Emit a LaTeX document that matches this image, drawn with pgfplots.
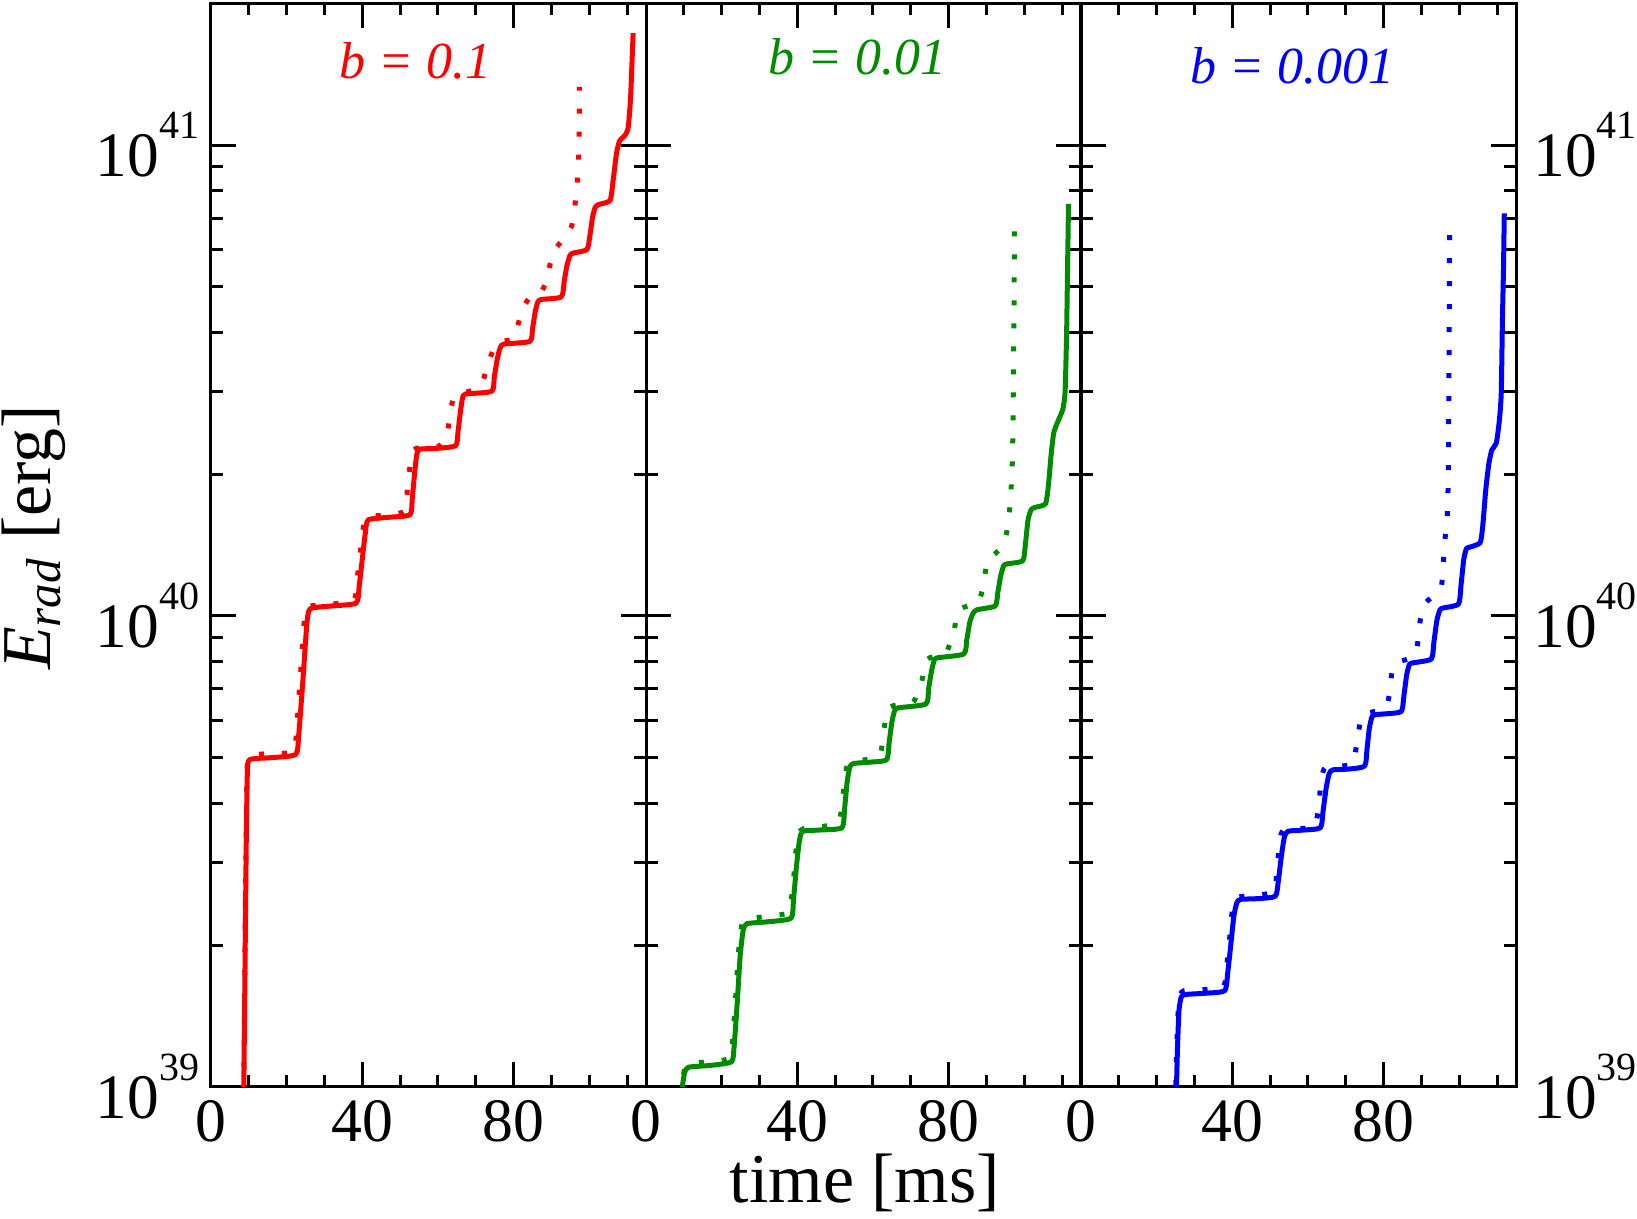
\documentclass[border=0pt]{standalone}
\usepackage{pgfplots}
\pgfplotsset{compat=1.18}
\usepackage{amsmath}
\usepackage{fontspec}
\setmainfont{Liberation Serif}
\definecolor{xred}{RGB}{255,0,0}
\definecolor{xgreen}{RGB}{0,139,0}
\definecolor{xblue}{RGB}{0,0,255}
\newcommand\tp[1]{10\raisebox{0.6em}{\fontsize{12}{12}\selectfont #1}}
\tikzset{
  msol/.style={line width=1.5pt, line join=round, smooth, tension=0.35},
  mdot/.style={line width=1.5pt, dash pattern=on 1.5pt off 5.4pt, smooth, tension=0.35},
  ttl/.style={font=\fontsize{15.6}{15.6}\selectfont\itshape, anchor=base},
}
\pgfplotsset{
  every axis/.append style={
    scale only axis, width=130.5pt, height=325pt,
    xmin=0, xmax=115, ymin=1e39, ymax=2e41,
    axis line style={line width=0.9pt},
    major tick style={black, line width=0.9pt},
    minor tick style={black, line width=0.9pt},
    major tick length=7.5pt, minor tick length=3.6pt,
    tick align=inside,
    xtick={0,40,80}, xticklabels={0,40,80},
    minor xtick={10,20,30,50,60,70,90,100,110},
    ytick={1e39,1e40,1e41},
    minor ytick={2e39,3e39,4e39,5e39,6e39,7e39,8e39,9e39,2e40,3e40,4e40,5e40,6e40,7e40,8e40,9e40},
    xtick pos=both,
    xticklabel style={font=\fontsize{18.5}{18.5}\selectfont, anchor=base, inner sep=0pt, yshift=-16.3pt},
    yticklabel style={font=\fontsize{19}{19}\selectfont},
  },
}
\begin{document}
\begin{tikzpicture}
% ---------------- panel 1: b = 0.1 ----------------
\begin{semilogyaxis}[at={(0pt,0pt)}, anchor=south west,
  yticklabel pos=left, ytick pos=both,
  yticklabels={\tp{39},\tp{40},\tp{41}},
  yticklabel style={inner sep=0pt, xshift=-3.3pt},
  ylabel={\textit{E}$_{\textit{rad}}$ [erg]},
  ylabel style={at={(axis description cs:-0.37,0.507)}, anchor=base, font=\fontsize{21}{21}\selectfont},
]
\addplot[xred, msol] coordinates {
(8.3,5e38) (8.9,1.5e39) (9.3,3.2e39) (9.6,4.6e39) (10.2,4.95e39) (16,5.0e39) (22.4,5.08e39)
(23.2,5.6e39) (24.3,7.3e39) (25.3,9.5e39) (26.2,1.035e40) (32,1.05e40) (38.4,1.065e40)
(39.2,1.16e40) (40.0,1.32e40) (40.8,1.5e40) (41.6,1.6e40) (47,1.62e40) (52.6,1.64e40)
(53.2,1.77e40) (53.8,2.0e40) (54.4,2.2e40) (55.2,2.26e40) (60,2.27e40) (64.7,2.3e40)
(65.3,2.46e40) (65.9,2.7e40) (66.5,2.9e40) (67.3,2.96e40) (74.2,3.0e40)
(74.9,3.22e40) (75.7,3.52e40) (76.5,3.72e40) (77.5,3.78e40) (84.3,3.83e40)
(85.0,4.07e40) (85.7,4.42e40) (86.4,4.64e40) (87.3,4.7e40) (92.6,4.76e40)
(93.4,5.15e40) (94.1,5.55e40) (94.9,5.83e40) (95.8,5.9e40) (99.4,6.0e40)
(100.2,6.45e40) (100.9,7.05e40) (101.6,7.38e40) (102.5,7.48e40) (105.5,7.63e40)
(106.3,8.4e40) (107.2,9.6e40) (108.0,1.02e41) (109.5,1.05e41) (110.3,1.09e41)
(110.9,1.25e41) (111.3,1.5e41) (111.6,1.73e41)
};
\addplot[xred, mdot] coordinates {
(8.25,5e38) (8.85,1.5e39) (9.25,3.2e39) (9.55,4.7e39) (10.2,5.05e39) (16,5.1e39) (21.8,5.15e39)
(22.6,5.7e39) (23.6,7.4e39) (24.6,9.6e39) (25.5,1.045e40) (32,1.06e40) (37.8,1.08e40)
(38.6,1.19e40) (39.4,1.35e40) (40.2,1.52e40) (41.0,1.62e40) (47,1.64e40) (51.2,1.67e40)
(51.9,1.85e40) (52.5,2.05e40) (53.3,2.22e40) (54.3,2.27e40) (60,2.29e40) (62.3,2.4e40)
(63.3,2.73e40) (64.3,2.93e40) (66,2.97e40) (70,3.03e40) (72,3.18e40) (73.5,3.48e40)
(75.2,3.76e40) (77,3.83e40) (79.8,3.88e40) (81,4.12e40) (82.3,4.45e40) (84,4.72e40)
(86.5,4.79e40) (88.3,5.05e40) (89.7,5.6e40) (91,6.0e40) (92.3,6.2e40) (94,6.45e40)
(95.4,6.75e40) (96.3,7.55e40) (97.0,8.7e40) (97.3,1.0e41) (97.4,1.33e41)
};
\node[ttl, xred] at (rel axis cs:0.470,0.931) {b = 0.1};
\end{semilogyaxis}
% ---------------- panel 2: b = 0.01 ----------------
\begin{semilogyaxis}[at={(130.5pt,0pt)}, anchor=south west,
  ytick pos=both, yticklabels={},
  xlabel={time [ms]},
  xlabel style={at={(axis description cs:0.503,0)}, anchor=base, inner sep=0pt, yshift=-34.8pt, font=\fontsize{21}{21}\selectfont},
]
\addplot[xgreen, msol] coordinates {
(9.3,9.5e38) (9.6,1.0e39) (10.2,1.07e39) (11.2,1.10e39) (17,1.11e39) (22.6,1.13e39)
(23.3,1.22e39) (24.1,1.5e39) (24.9,1.9e39) (25.7,2.15e39) (26.7,2.22e39) (32,2.24e39) (38.3,2.28e39)
(39.0,2.5e39) (39.8,2.95e39) (40.6,3.35e39) (41.5,3.49e39) (46,3.51e39) (51.8,3.55e39)
(52.5,3.9e39) (53.2,4.45e39) (53.9,4.78e39) (54.9,4.86e39) (59,4.89e39) (63.6,4.95e39)
(64.3,5.4e39) (65.0,5.95e39) (65.7,6.28e39) (66.7,6.38e39) (74,6.5e39)
(74.7,7.0e39) (75.5,7.65e39) (76.2,8.05e39) (77.1,8.15e39) (84,8.3e39)
(84.8,8.9e39) (85.6,9.7e39) (86.4,1.01e40) (87.4,1.03e40) (92.3,1.05e40)
(93,1.12e40) (93.8,1.22e40) (94.6,1.28e40) (95.5,1.29e40) (99.6,1.31e40)
(100.3,1.42e40) (101.0,1.60e40) (101.8,1.68e40) (102.8,1.70e40) (105.6,1.73e40)
(106.4,1.9e40) (107.1,2.2e40) (107.8,2.45e40) (109,2.6e40) (110.2,2.75e40)
(110.8,3.0e40) (111.2,4.0e40) (111.45,5.5e40) (111.7,7.5e40)
};
\addplot[xgreen, mdot] coordinates {
(9.2,9.5e38) (9.5,1.01e39) (10.1,1.08e39) (11.1,1.12e39) (17,1.13e39) (22.2,1.15e39)
(22.9,1.25e39) (23.7,1.55e39) (24.5,1.95e39) (25.3,2.2e39) (26.3,2.27e39) (32,2.3e39) (37.6,2.34e39)
(38.4,2.5e39) (39.0,2.75e39) (39.6,3.15e39) (40.5,3.45e39) (41.5,3.53e39) (46,3.56e39) (51.0,3.65e39)
(51.6,3.9e39) (52.3,4.3e39) (53.0,4.75e39) (54.0,4.9e39) (58,4.95e39) (61.8,5.05e39)
(62.5,5.4e39) (63.2,5.95e39) (64.0,6.35e39) (65.5,6.45e39) (70.5,6.55e39)
(71.7,6.85e39) (72.8,7.2e39) (73.9,7.95e39) (75,8.15e39) (79.1,8.3e39)
(80.5,8.8e39) (81.3,9.1e39) (82.2,1.01e40) (83.5,1.04e40) (87.9,1.07e40)
(89.2,1.17e40) (90.3,1.31e40) (92.5,1.36e40) (94.5,1.42e40) (95.8,1.57e40)
(96.5,1.85e40) (96.9,2.2e40) (97.1,3.0e40) (97.3,4.5e40) (97.4,7.0e40)
};
\node[ttl, xgreen] at (rel axis cs:0.486,0.934) {b = 0.01};
\end{semilogyaxis}
% ---------------- panel 3: b = 0.001 ----------------
\begin{semilogyaxis}[at={(261pt,0pt)}, anchor=south west,
  yticklabel pos=right, ytick pos=both,
  yticklabels={\tp{39},\tp{40},\tp{41}},
  yticklabel style={inner sep=0pt, xshift=5pt},
]
\addplot[xblue, msol] coordinates {
(25.1,9e38) (25.5,1.2e39) (25.9,1.45e39) (26.5,1.55e39) (27.5,1.57e39) (33,1.58e39) (38.0,1.60e39)
(38.8,1.75e39) (39.6,2.0e39) (40.4,2.3e39) (41.2,2.46e39) (42.2,2.50e39) (47,2.51e39) (51.4,2.54e39)
(52.2,2.75e39) (53.0,3.1e39) (53.8,3.4e39) (54.8,3.49e39) (59,3.51e39) (63.3,3.55e39)
(64.0,3.85e39) (64.8,4.3e39) (65.6,4.62e39) (66.6,4.71e39) (71,4.73e39) (75.0,4.8e39)
(75.6,5.2e39) (76.2,5.75e39) (76.9,6.1e39) (77.8,6.17e39) (81,6.2e39) (84.7,6.27e39)
(85.4,6.8e39) (86.1,7.5e39) (86.8,7.88e39) (87.7,7.95e39) (92.6,8.1e39)
(93.3,8.8e39) (94.1,9.8e39) (94.9,1.03e40) (95.8,1.04e40) (99.8,1.06e40)
(100.5,1.17e40) (101.2,1.32e40) (101.9,1.39e40) (102.8,1.40e40) (105.5,1.43e40)
(106.2,1.55e40) (107.0,1.85e40) (107.8,2.1e40) (108.6,2.25e40) (109.8,2.33e40)
(110.6,2.6e40) (111.1,2.97e40) (111.4,4.2e40) (111.7,5.5e40) (111.9,7.16e40)
};
\addplot[xblue, mdot] coordinates {
(24.9,9e38) (25.3,1.2e39) (25.7,1.45e39) (26.3,1.57e39) (27.3,1.60e39) (33,1.61e39) (37.7,1.63e39)
(38.5,1.8e39) (39.2,2.02e39) (39.8,2.3e39) (40.6,2.48e39) (41.6,2.53e39) (47,2.55e39) (51.1,2.6e39)
(51.6,2.75e39) (52.1,3.05e39) (52.6,3.35e39) (53.4,3.5e39) (57,3.53e39) (61.6,3.56e39)
(62.3,3.7e39) (62.9,3.94e39) (63.4,4.45e39) (64.2,4.72e39) (65.2,4.78e39) (69,4.8e39)
(71.6,4.83e39) (72.1,4.9e39) (73,5.41e39) (73.9,6.0e39) (75,6.2e39) (79,6.3e39)
(80.8,6.45e39) (81.5,6.8e39) (82.2,7.58e39) (83.2,7.95e39) (86.5,8.1e39) (88.3,8.3e39)
(89.0,8.75e39) (89.6,9.7e39) (90.5,1.05e40) (91.8,1.08e40) (93.5,1.11e40) (95.3,1.16e40)
(95.8,1.30e40) (96.2,1.45e40) (96.8,1.6e40) (97.1,2.0e40) (97.3,3.5e40) (97.45,6.6e40)
};
\node[ttl, xblue] at (rel axis cs:0.486,0.926) {b = 0.001};
\end{semilogyaxis}
\pgfresetboundingbox
\path (-63.3pt,-39.6pt) rectangle (427.8pt,326.1pt);
\end{tikzpicture}
\end{document}
